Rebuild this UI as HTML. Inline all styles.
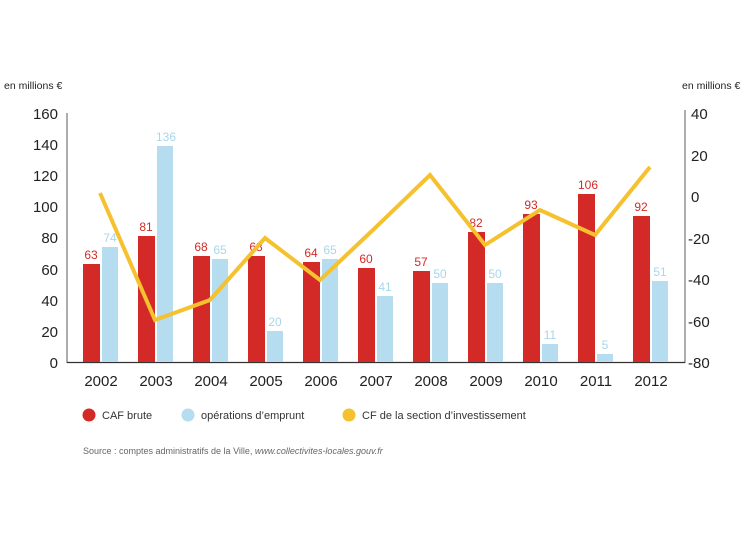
<!DOCTYPE html>
<html><head><meta charset="utf-8"><style>
body{margin:0;background:#fff;}
svg{display:block;font-family:"Liberation Sans",sans-serif;}
</style></head><body>
<svg width="750" height="536" xmlns="http://www.w3.org/2000/svg">
<text x="4" y="89" font-size="10.5" fill="#222">en millions €</text>
<text x="682" y="89" font-size="10.5" fill="#222">en millions €</text>
<line x1="67" y1="113" x2="67" y2="363" stroke="#777" stroke-width="1.2"/>
<line x1="685" y1="110" x2="685" y2="363" stroke="#777" stroke-width="1.2"/>
<line x1="67" y1="362.5" x2="685" y2="362.5" stroke="#333" stroke-width="1.2"/>
<g font-size="15" fill="#222" text-anchor="end">
<text x="58" y="119">160</text><text x="58" y="150">140</text><text x="58" y="181">120</text><text x="58" y="212">100</text><text x="58" y="243">80</text><text x="58" y="275">60</text><text x="58" y="306">40</text><text x="58" y="337">20</text><text x="58" y="368">0</text>
</g>
<g font-size="15" fill="#222">
<text x="691" y="119">40</text><text x="691" y="161">20</text><text x="691" y="202">0</text><text x="688" y="244">-20</text><text x="688" y="285">-40</text><text x="688" y="327">-60</text><text x="688" y="368">-80</text>
</g>
<g id="bars"></g>
<g font-size="15" fill="#222" text-anchor="middle">
<text x="101" y="386">2002</text><text x="156" y="386">2003</text><text x="211" y="386">2004</text><text x="266" y="386">2005</text><text x="321" y="386">2006</text><text x="376" y="386">2007</text><text x="431" y="386">2008</text><text x="486" y="386">2009</text><text x="541" y="386">2010</text><text x="596" y="386">2011</text><text x="651" y="386">2012</text>
</g>
<g>
<rect x="83" y="264" width="17" height="98" fill="#d42a27"/><rect x="102" y="247" width="16" height="115" fill="#b5dcef"/>
<rect x="138" y="236" width="17" height="126" fill="#d42a27"/><rect x="157" y="146" width="16" height="216" fill="#b5dcef"/>
<rect x="193" y="256" width="17" height="106" fill="#d42a27"/><rect x="212" y="259" width="16" height="103" fill="#b5dcef"/>
<rect x="248" y="256" width="17" height="106" fill="#d42a27"/><rect x="267" y="331" width="16" height="31" fill="#b5dcef"/>
<rect x="303" y="262" width="17" height="100" fill="#d42a27"/><rect x="322" y="259" width="16" height="103" fill="#b5dcef"/>
<rect x="358" y="268" width="17" height="94" fill="#d42a27"/><rect x="377" y="296" width="16" height="66" fill="#b5dcef"/>
<rect x="413" y="271" width="17" height="91" fill="#d42a27"/><rect x="432" y="283" width="16" height="79" fill="#b5dcef"/>
<rect x="468" y="232" width="17" height="130" fill="#d42a27"/><rect x="487" y="283" width="16" height="79" fill="#b5dcef"/>
<rect x="523" y="214" width="17" height="148" fill="#d42a27"/><rect x="542" y="344" width="16" height="18" fill="#b5dcef"/>
<rect x="578" y="194" width="17" height="168" fill="#d42a27"/><rect x="597" y="354" width="16" height="8" fill="#b5dcef"/>
<rect x="633" y="216" width="17" height="146" fill="#d42a27"/><rect x="652" y="281" width="16" height="81" fill="#b5dcef"/>
</g>
<g font-size="12" text-anchor="middle">
<g fill="#d42a27">
<text x="91" y="259">63</text><text x="146" y="231">81</text><text x="201" y="251">68</text><text x="256" y="251">68</text><text x="311" y="257">64</text><text x="366" y="263">60</text><text x="421" y="266">57</text><text x="476" y="227">82</text><text x="531" y="209">93</text><text x="588" y="189">106</text><text x="641" y="211">92</text>
</g>
<g fill="#a9d6ec">
<text x="110" y="242">74</text><text x="166" y="141">136</text><text x="220" y="254">65</text><text x="275" y="326">20</text><text x="330" y="254">65</text><text x="385" y="291">41</text><text x="440" y="278">50</text><text x="495" y="278">50</text><text x="550" y="339">11</text><text x="605" y="349">5</text><text x="660" y="276">51</text>
</g>
</g>
<polyline points="100,193 155,320 210,300 265,238 320,280 375,228 430,175 485,245 540,210 595,235 650,167" fill="none" stroke="#f5c12e" stroke-width="4" stroke-linejoin="miter"/>
<circle cx="89" cy="415" r="6.5" fill="#d42a27"/>
<text x="102" y="419" font-size="11" fill="#333">CAF brute</text>
<circle cx="188" cy="415" r="6.5" fill="#b5dcef"/>
<text x="201" y="419" font-size="11" fill="#333">opérations d’emprunt</text>
<circle cx="349" cy="415" r="6.5" fill="#f5c12e"/>
<text x="362" y="419" font-size="11" fill="#333">CF de la section d’investissement</text>
<text x="83" y="454" font-size="9" fill="#666">Source : comptes administratifs de la Ville, <tspan font-style="italic">www.collectivites-locales.gouv.fr</tspan></text>
</svg>
</body></html>
